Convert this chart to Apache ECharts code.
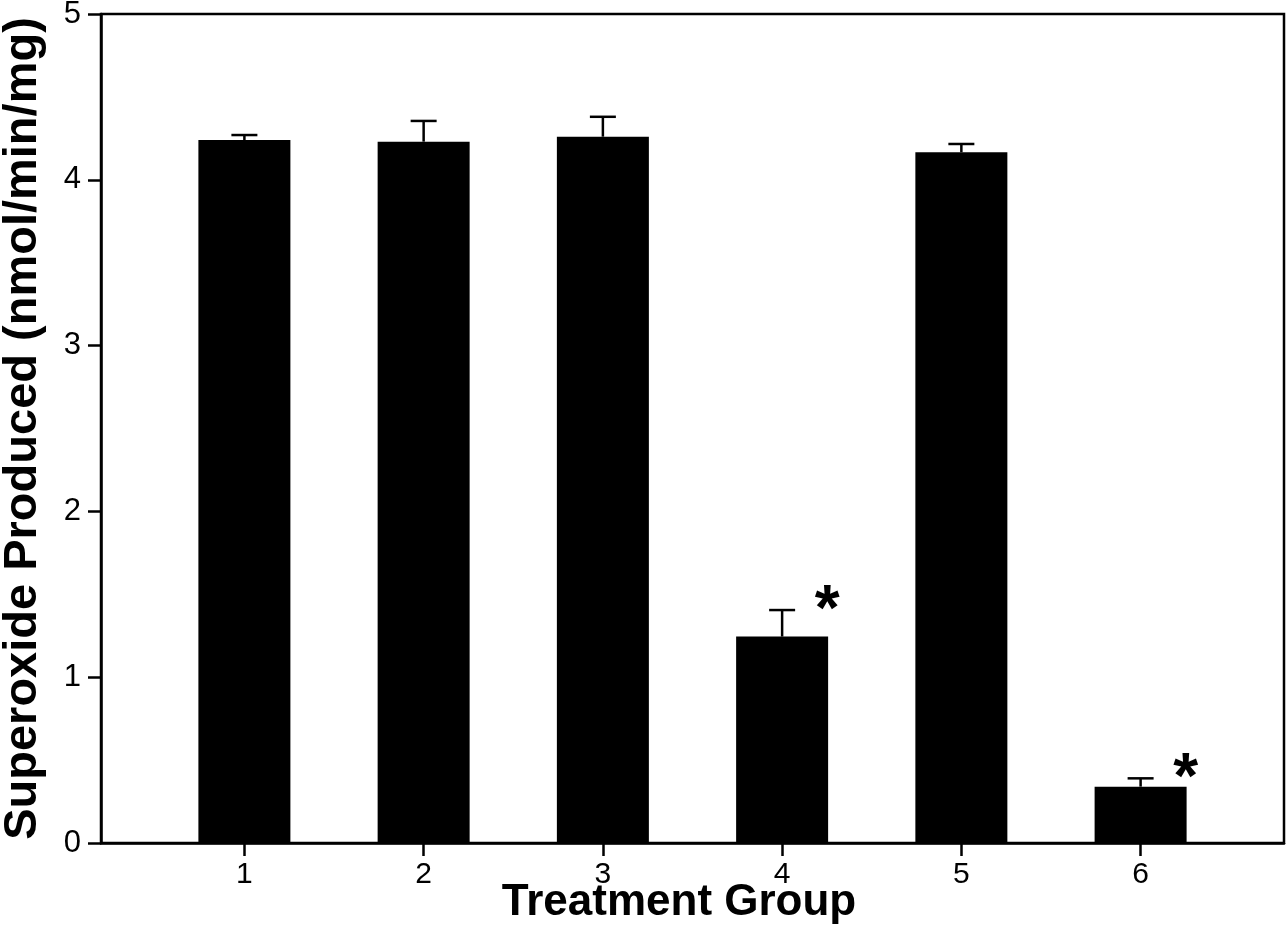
<!DOCTYPE html>
<html>
<head>
<meta charset="utf-8">
<script src="https://cdn.jsdelivr.net/npm/echarts@6/dist/echarts.min.js"></script>
<style>
html,body{margin:0;padding:0;background:#fff;}
#c{width:1287px;height:943px;}
</style>
</head>
<body>
<div id="c"></div>
<script>
// Data
var groups = [1, 2, 3, 4, 5, 6];
var means = [4.24, 4.23, 4.26, 1.245, 4.166, 0.34];
var errors = [0.03, 0.125, 0.12, 0.16, 0.05, 0.05];
var significant = [false, false, false, true, false, true];
var yTicks = [0, 1, 2, 3, 4, 5];

var FONT = '"Liberation Sans", Arial, sans-serif';

var barData = groups.map(function (g, i) { return [g, means[i]]; });
var errData = groups.map(function (g, i) { return [g, means[i], means[i] + errors[i]]; });
var starData = [];
groups.forEach(function (g, i) { if (significant[i]) starData.push([g, means[i] + errors[i]]); });

var chart = echarts.init(document.getElementById('c'), null, {renderer: 'canvas'});
chart.setOption({
  animation: false,
  backgroundColor: '#fff',
  grid: {left: 101, right: 3, top: 14, bottom: 100, show: true, borderColor: '#000', borderWidth: 2.5,
    backgroundColor: 'transparent', containLabel: false, outerBoundsMode: 'none'},
  xAxis: {
    type: 'value', min: 0.2, max: 6.8,
    name: 'Treatment Group', nameLocation: 'middle', nameGap: 38, nameMoveOverlap: false,
    nameTextStyle: {fontFamily: FONT, fontSize: 44, fontWeight: 'bold', color: '#000', padding: [0, 27, 0, 0]},
    axisLine: {show: true, lineStyle: {color: '#000', width: 2.5}},
    axisTick: {show: true, customValues: groups, length: 13, inside: false, lineStyle: {color: '#000', width: 2.5}},
    axisLabel: {show: true, customValues: groups, margin: 17, fontFamily: FONT, fontSize: 30, color: '#000',
      formatter: function (v) { return String(v); }},
    splitLine: {show: false}
  },
  yAxis: {
    type: 'value', min: 0, max: 5, interval: 1,
    name: 'Superoxide Produced (nmol/min/mg)', nameLocation: 'middle', nameRotate: 90, nameGap: 54, nameMoveOverlap: false,
    nameTextStyle: {fontFamily: FONT, fontSize: 47, fontWeight: 'bold', color: '#000'},
    axisLine: {show: true, lineStyle: {color: '#000', width: 2.5}},
    axisTick: {show: true, length: 13, inside: false, lineStyle: {color: '#000', width: 2.5}},
    axisLabel: {show: true, margin: 20, fontFamily: FONT, fontSize: 31, color: '#000',
      formatter: function (v) { return yTicks.indexOf(v) >= 0 ? String(v) : ''; }},
    splitLine: {show: false}
  },
  series: [
    {
      type: 'bar', data: barData, barWidth: 92,
      itemStyle: {color: '#000'}, z: 2
    },
    {
      type: 'custom', data: errData, z: 3,
      renderItem: function (params, api) {
        var x = api.value(0);
        var lo = api.coord([x, api.value(1)]);
        var hi = api.coord([x, api.value(2)]);
        var half = 13;
        return {
          type: 'group',
          children: [
            {type: 'line', shape: {x1: lo[0], y1: lo[1], x2: hi[0], y2: hi[1]}, style: {stroke: '#000', lineWidth: 2.5}},
            {type: 'line', shape: {x1: hi[0] - half, y1: hi[1], x2: hi[0] + half, y2: hi[1]}, style: {stroke: '#000', lineWidth: 2.5}}
          ]
        };
      }
    },
    {
      type: 'custom', data: starData, z: 4,
      renderItem: function (params, api) {
        var p = api.coord([api.value(0), api.value(1)]);
        return {
          type: 'text',
          style: {text: '*', x: p[0] + 45, y: p[1] + 2, align: 'center', verticalAlign: 'middle',
            font: 'bold 64px ' + FONT, fill: '#000'}
        };
      }
    }
  ]
});
</script>
</body>
</html>
